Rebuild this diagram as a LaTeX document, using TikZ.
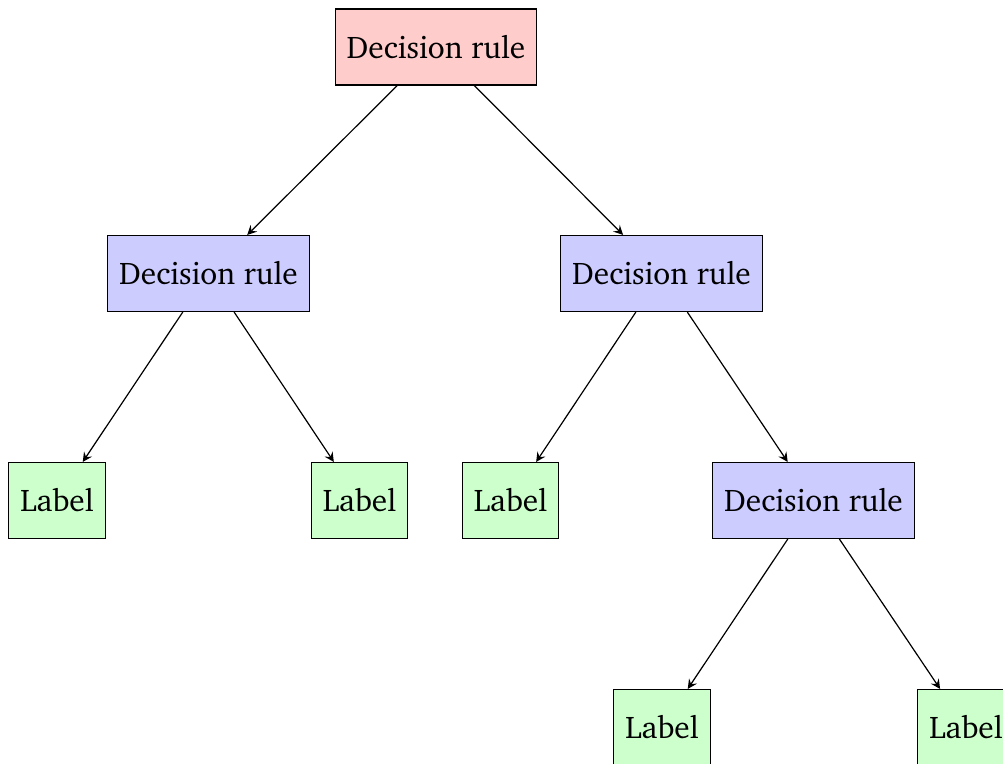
\documentclass[tikz,border=0pt]{standalone}
\usepackage[T1]{fontenc}
\usepackage{charter}
\usetikzlibrary{arrows}
\begin{document}
\begin{tikzpicture}[x=0.33333pt, y=-0.33333pt,
  box/.style={draw, font=\fontsize{10.45pt}{12.5pt}\selectfont,
    inner xsep=3.85pt, inner ysep=0pt, minimum height=25.3pt},
  rootbox/.style={box, fill=red!20},
  rulebox/.style={box, fill=blue!20},
  leafbox/.style={box, fill=green!20},
  edge/.style={-stealth, line width=0.4pt}]
\useasboundingbox (0,0) rectangle (1003,764);
\begin{scope}
\clip (0,0) rectangle (1003,764);
% root
\node[rootbox] (r) at (436,47) {Decision rule};
% second level
\node[rulebox] (a) at (208.5,273.5) {Decision rule};
\node[rulebox] (b) at (661.5,273.5) {Decision rule};
% third level
\node[leafbox] (a1) at (57,500.5) {Label};
\node[leafbox] (a2) at (359.5,500.5) {Label};
\node[leafbox] (b1) at (510.5,500.5) {Label};
\node[rulebox] (b2) at (813.5,500.5) {Decision rule};
% fourth level
\node[leafbox] (c1) at (662,727.5) {Label};
\node[leafbox] (c2) at (966,727.5) {Label};
% connectors
\draw[edge] (r) -- (a);
\draw[edge] (r) -- (b);
\draw[edge] (a) -- (a1);
\draw[edge] (a) -- (a2);
\draw[edge] (b) -- (b1);
\draw[edge] (b) -- (b2);
\draw[edge] (b2) -- (c1);
\draw[edge] (b2) -- (c2);
\end{scope}
\end{tikzpicture}
\end{document}
